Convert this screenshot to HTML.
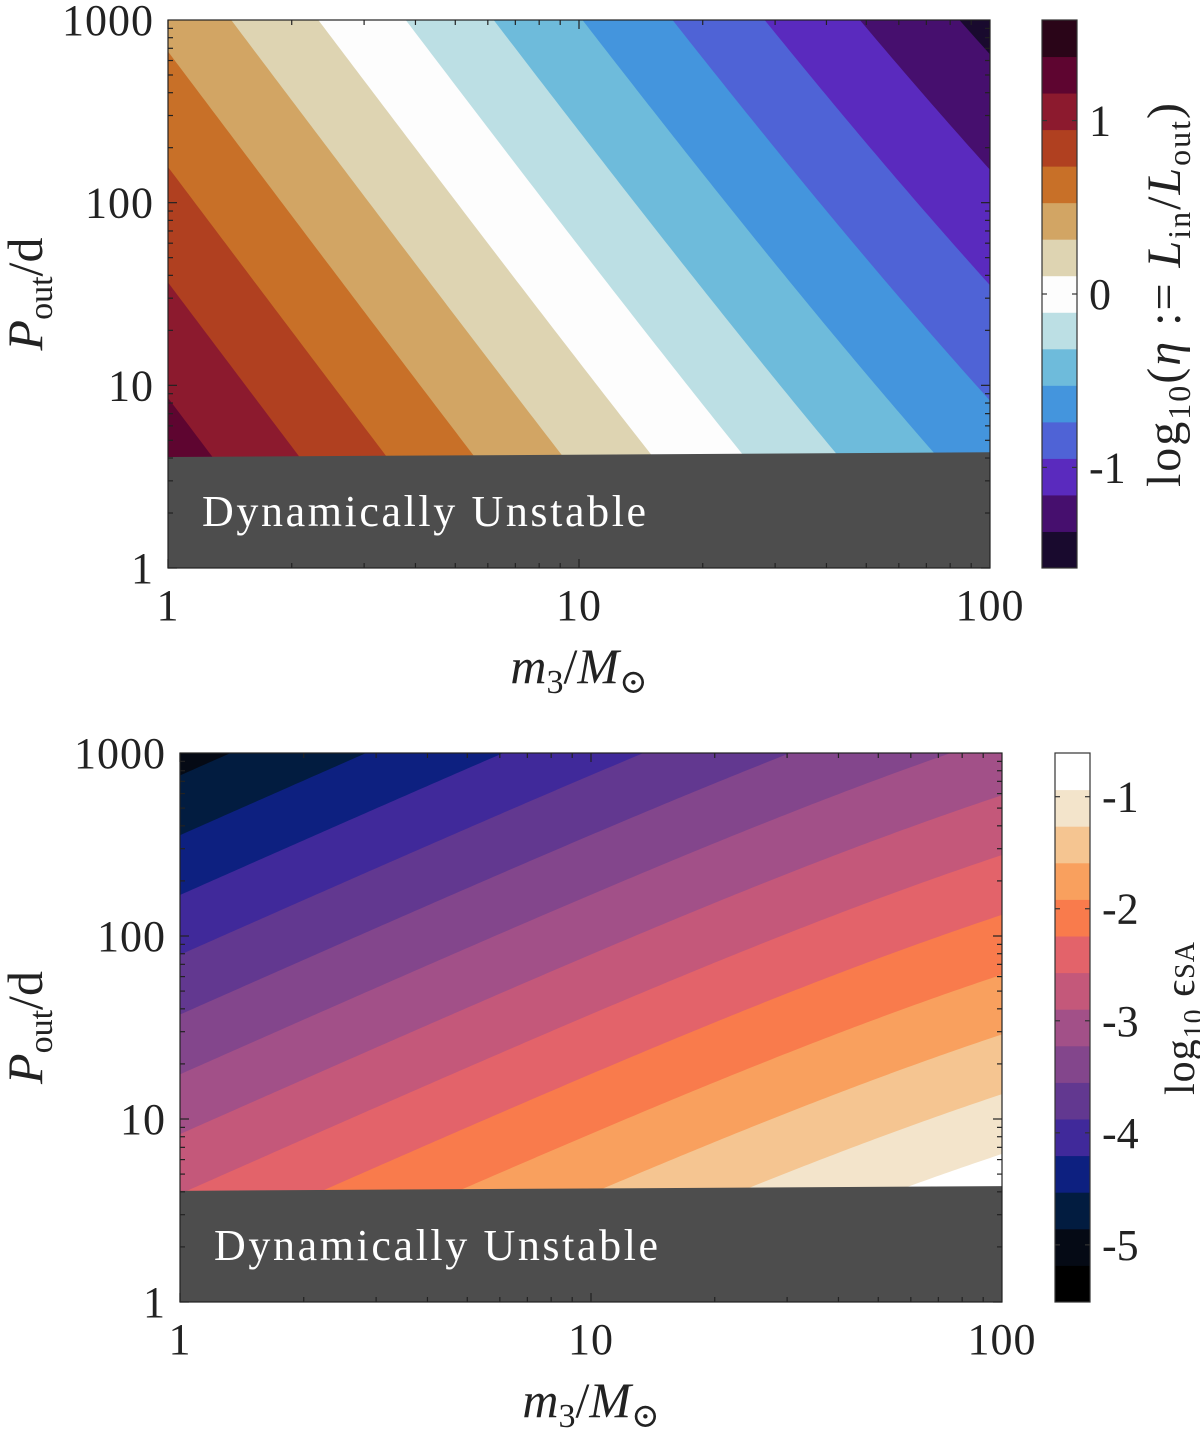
<!DOCTYPE html>
<html><head><meta charset="utf-8">
<style>
html,body{margin:0;padding:0;background:#fff;}
svg{display:block;font-family:"Liberation Serif","DejaVu Serif",serif;}
</style></head>
<body>
<svg id="fig" width="1200" height="1430" viewBox="0 0 1200 1430" xmlns="http://www.w3.org/2000/svg">
<defs>
<clipPath id="clipTop"><rect x="168" y="20" width="822" height="548"/></clipPath>
<clipPath id="clipBot"><rect x="180" y="753" width="822" height="549"/></clipPath>
</defs>
<g id="topPanel"></g>
<g id="botPanel"></g>
</svg>
<script>
// ---------- top panel data (log10 eta) ----------
const topLevelMin = -1.58;
const topLevelMax = 1.58;
const topColors = ["#190a2e","#460f6e","#5a2abe","#4f63d6","#4495dd","#6ebbdb","#bcdfe4","#fdfdfd","#ded4b2","#d2a564","#c87028","#b04020","#8c1a2e","#5e0530","#2a0518"];
const topModel = [0.801, -1, 1/3, 100, -1/3]; // k, mass exp, total-mass exp, m12, period exp
const topTicks = [-1, 0, 1];
const topTickLabels = ["-1","0","1"];
// ---------- bottom panel data (log10 eps_SA) ----------
const botLevelMin = -5.51;
const botLevelMax = -0.61;
const botColors = ["#000000","#050a15","#021c40","#0d2080","#40299a","#623890","#83468c","#a25088","#c4587a","#e3636a","#f97b4c","#f9a05e","#f5c591","#f3e4cb","#ffffff"];
const botModel = [-0.977, 1, -0.5, 100, -1];
const botTicks = [-5, -4, -3, -2, -1];
const botTickLabels = ["-5","-4","-3","-2","-1"];
// ---------- shared axes ----------
const xTicks = [1, 10, 100];
const xTickLabels = ["1","10","100"];
const yTicks = [1, 10, 100, 1000];
const yTickLabels = ["1","10","100","1000"];
const unstableM = [1, 100];
const unstableP = [4.05, 4.3];

const NS = "http://www.w3.org/2000/svg";
function mk(tag, attrs, parent){const e=document.createElementNS(NS,tag);for(const k in attrs)e.setAttribute(k,attrs[k]);parent.appendChild(e);return e;}

function panel(g, box, clipId, model, lmin, lmax, colors, cbTicks, cbTickLabels, cb, cbTitle){
  const xs = m => box.x0 + Math.log10(m)/2*(box.x1-box.x0);
  const ys = p => box.y1 - Math.log10(p)/3*(box.y1-box.y0);
  const n = colors.length, step = (lmax-lmin)/n;
  const contour = (m,L) => (L - model[0] - model[1]*Math.log10(m) - model[2]*Math.log10(model[3]+m))/model[4];
  const cg = mk("g",{"clip-path":"url(#"+clipId+")"},g);
  
  
  const base = mk("rect",{x:box.x0,y:box.y0,width:box.x1-box.x0,height:box.y1-box.y0,fill:colors[0]},cg);
  
  
  for(let i=1;i<n;i++){
    const L = lmin + i*step;
    let pts=[];
    for(let s=0;s<=200;s++){
      const lm = s/100; const m = Math.pow(10,lm);
      let lp = contour(m,L);
      let y = box.y1 - lp/3*(box.y1-box.y0);
      y = Math.max(box.y0-5, Math.min(box.y1+5, y));
      pts.push(xs(m).toFixed(2)+","+y.toFixed(2));
    }
    pts.push(box.x1+","+(box.y1+5)); pts.push(box.x0+","+(box.y1+5));
    const poly = mk("polygon",{points:pts.join(" "),fill:colors[i]},cg);
    
    
  }
  const up = [xs(unstableM[0])+","+ys(unstableP[0]), xs(unstableM[1])+","+ys(unstableP[1]), box.x1+","+box.y1, box.x0+","+box.y1];
  const un = mk("polygon",{points:up.join(" "),fill:"#4d4d4d"},g);
  
  
  const ut = mk("text",{x:box.x0+34,y:box.tY,fill:"#fff","font-size":"44","letter-spacing":"2.6"},g);
  ut.textContent="Dynamically Unstable";
  
  
  const fr = mk("rect",{x:box.x0,y:box.y0,width:box.x1-box.x0,height:box.y1-box.y0,fill:"none",stroke:"#222","stroke-width":"1.2"},g);
  
  
  const tg = mk("g",{stroke:"#222","stroke-width":"1.2"},g);
  
  
  for(let d=0; d<2; d++) for(let k=1;k<10;k++){
    const m = Math.pow(10,d)*k; const x=xs(m); const len = k==1?9:5;
    mk("line",{x1:x,y1:box.y1,x2:x,y2:box.y1-len},tg);
    mk("line",{x1:x,y1:box.y0,x2:x,y2:box.y0+len},tg);
  }
  for(let d=0; d<3; d++) for(let k=1;k<10;k++){
    const p = Math.pow(10,d)*k; const y=ys(p); const len = k==1?9:5;
    mk("line",{x1:box.x0,y1:y,x2:box.x0+len,y2:y},tg);
    mk("line",{x1:box.x1,y1:y,x2:box.x1-len,y2:y},tg);
  }
  xTicks.forEach((v,i)=>{
    const t=mk("text",{x:xs(v),y:box.y1+52,"text-anchor":"middle","font-size":"44",fill:"#222","letter-spacing":"1"},g);
    t.textContent=xTickLabels[i];
    
    
  });
  yTicks.forEach((v,i)=>{
    const t=mk("text",{x:box.x0-14,y:ys(v)+15,"text-anchor":"end","font-size":"44",fill:"#222","letter-spacing":"1"},g);
    t.textContent=yTickLabels[i];
    
    
  });
  const xl=mk("text",{x:(box.x0+box.x1)/2,y:box.y1+115,"font-size":"50",fill:"#222","text-anchor":"middle"},g);
  xl.innerHTML='<tspan font-style="italic">m</tspan><tspan font-size="34" dy="10">3</tspan><tspan dy="-10">/</tspan><tspan font-style="italic">M</tspan><tspan font-size="34" dy="10">⊙</tspan>';
  
  
  const yl=mk("text",{x:0,y:0,"font-size":"50",fill:"#222","text-anchor":"middle",transform:"translate("+box.yLx+","+((box.y0+box.y1)/2)+") rotate(-90)"},g);
  yl.innerHTML='<tspan font-style="italic">P</tspan><tspan font-size="34" dy="10">out</tspan><tspan dy="-10">/d</tspan>';
  
  
  const cby = v => cb.y1 - (v-lmin)/(lmax-lmin)*(cb.y1-cb.y0);
  const cbg = mk("g",{},g);
  
  
  for(let i=0;i<n;i++){
    const yTop = cby(lmin+(i+1)*step), yB = cby(lmin+i*step);
    const r=mk("rect",{x:cb.x0,y:yTop,width:cb.x1-cb.x0,height:yB-yTop+0.5,fill:colors[i]},cbg);
    
    
  }
  mk("rect",{x:cb.x0,y:cb.y0,width:cb.x1-cb.x0,height:cb.y1-cb.y0,fill:"none",stroke:"#333","stroke-width":"1.2"},cbg);
  cbTicks.forEach((v,i)=>{
    const y=cby(v);
    mk("line",{x1:cb.x0,y1:y,x2:cb.x0+5,y2:y,stroke:"#333","stroke-width":"1.2"},cbg);
    mk("line",{x1:cb.x1,y1:y,x2:cb.x1-5,y2:y,stroke:"#333","stroke-width":"1.2"},cbg);
    const t=mk("text",{x:cb.x1+12,y:y+15,"font-size":"44",fill:"#222"},cbg);
    t.textContent=cbTickLabels[i];
    
    
  });
  const ct=mk("text",{x:0,y:0,"font-size":cb.fs,fill:"#222","text-anchor":"middle","letter-spacing":cb.ls,transform:"translate("+cb.tx+","+cb.ty+") rotate(-90)"},cbg);
  ct.innerHTML=cbTitle;
  
  
}

panel(document.getElementById("topPanel"),
  {x0:168,x1:990,y0:20,y1:568,tY:526,yLx:42}, "clipTop", topModel, topLevelMin, topLevelMax, topColors, topTicks, topTickLabels,
  {x0:1042,x1:1077,y0:20,y1:568,tx:1180,ty:294,fs:"48",ls:"2"},
  'log<tspan font-size="32" dy="10">10</tspan><tspan dy="-10">(</tspan><tspan font-style="italic">η</tspan> := <tspan font-style="italic">L</tspan><tspan font-size="32" dy="10">in</tspan><tspan dy="-10">/</tspan><tspan font-style="italic">L</tspan><tspan font-size="32" dy="10">out</tspan><tspan dy="-10">)</tspan>');
panel(document.getElementById("botPanel"),
  {x0:180,x1:1002,y0:753,y1:1302,tY:1260,yLx:42}, "clipBot", botModel, botLevelMin, botLevelMax, botColors, botTicks, botTickLabels,
  {x0:1055,x1:1090,y0:753,y1:1302,tx:1194,ty:1018,fs:"42",ls:"1"},
  'log<tspan font-size="28" dy="9">10</tspan><tspan dy="-9"> ϵ</tspan><tspan font-size="28" dy="0">SA</tspan>');
</script>
</body></html>
